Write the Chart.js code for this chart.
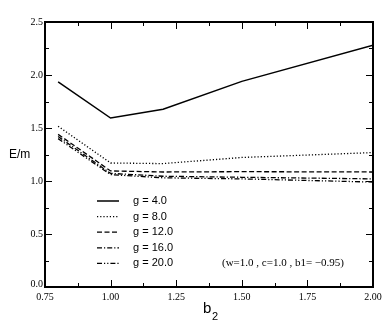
<!DOCTYPE html>
<html><head><meta charset="utf-8">
<script src="https://cdn.jsdelivr.net/npm/chart.js@4/dist/chart.umd.min.js"></script>
<style>html,body{margin:0;padding:0;background:#fff}#wrap{width:382px;height:327px}</style>
</head><body><div id="wrap"><canvas id="c" width="382" height="327"></canvas></div>
<script>
const b2Values = [0.8, 1.0, 1.2, 1.5, 2.0];
const g4  = [1.935, 1.594, 1.677, 1.940, 2.280];
const g8  = [1.516, 1.170, 1.164, 1.222, 1.268];
const g12 = [1.440, 1.095, 1.085, 1.088, 1.085];
const g16 = [1.420, 1.072, 1.045, 1.035, 1.020];
const g20 = [1.400, 1.060, 1.030, 1.020, 0.990];
const seriesLabels = ['g = 4.0', 'g = 8.0', 'g = 12.0', 'g = 16.0', 'g = 20.0'];
const xTickLabels = ['0.75', '1.00', '1.25', '1.50', '1.75', '2.00'];
const yTickLabels = ['0.0', '0.5', '1.0', '1.5', '2.0', '2.5'];
const annotationText = '(w=1.0 , c=1.0 , b1= \u22120.95)';

const dashes = [[], [1.2, 2], [5, 2.5], [5, 2, 1.2, 2], [5, 2, 1.2, 2, 1.2, 2]];
const seriesData = [g4, g8, g12, g16, g20];

const datasets = seriesData.map((arr, i) => ({
  label: seriesLabels[i],
  data: arr.map((v, j) => ({x: b2Values[j], y: v})),
  borderColor: '#000',
  borderWidth: i === 0 ? 1.5 : 1.3,
  borderDash: dashes[i],
  pointRadius: 0,
  fill: false,
  tension: 0
}));

const decor = {
  id: 'decor',
  afterDraw(chart) {
    const ctx = chart.ctx;
    const xs = chart.scales.x, ys = chart.scales.y;
    const a = chart.chartArea;
    ctx.save();
    ctx.strokeStyle = '#000';
    ctx.fillStyle = '#000';
    ctx.lineWidth = 2;
    ctx.setLineDash([]);
    ctx.strokeRect(a.left, a.top, a.right - a.left, a.bottom - a.top);
    ctx.lineWidth = 1;
    const xMaj = xTickLabels.map(Number);
    for (let v = 0.75; v <= 2.0001; v += 0.125) {
      const px = Math.round(xs.getPixelForValue(v)) + 0.5;
      const major = xMaj.some(m => Math.abs(m - v) < 1e-6);
      const len = major ? 7 : 4;
      ctx.beginPath();
      ctx.moveTo(px, a.bottom); ctx.lineTo(px, a.bottom - len);
      ctx.moveTo(px, a.top); ctx.lineTo(px, a.top + len);
      ctx.stroke();
    }
    const yMaj = yTickLabels.map(Number);
    for (let v = 0; v <= 2.5001; v += 0.25) {
      const py = Math.round(ys.getPixelForValue(v)) + 0.5;
      const major = yMaj.some(m => Math.abs(m - v) < 1e-6);
      const len = major ? 7 : 4;
      ctx.beginPath();
      ctx.moveTo(a.left, py); ctx.lineTo(a.left + len, py);
      ctx.moveTo(a.right, py); ctx.lineTo(a.right - len, py);
      ctx.stroke();
    }
    ctx.font = '10px "Liberation Serif", serif';
    ctx.textAlign = 'center'; ctx.textBaseline = 'top';
    xTickLabels.forEach(t => {
      ctx.fillText(t, xs.getPixelForValue(Number(t)), a.bottom + 5);
    });
    ctx.textAlign = 'right'; ctx.textBaseline = 'middle';
    yTickLabels.forEach(t => {
      const py = ys.getPixelForValue(Number(t));
      ctx.fillText(t, a.left - 2, t === '0.0' ? py - 3 : py);
    });
    ctx.font = '12px "Liberation Sans Narrow", "Liberation Sans", sans-serif';
    ctx.textAlign = 'left'; ctx.textBaseline = 'middle';
    ctx.fillText('E/m', 9, 155);
    ctx.font = '15px "Liberation Sans", sans-serif';
    ctx.textBaseline = 'alphabetic';
    ctx.fillText('b', 203, 313);
    ctx.font = '11px "Liberation Sans", sans-serif';
    ctx.fillText('2', 212, 320);
    chart.data.datasets.forEach((ds, i) => {
      const y = 201 + i * 15.6;
      ctx.lineWidth = ds.borderWidth;
      ctx.setLineDash(ds.borderDash);
      ctx.beginPath();
      ctx.moveTo(97, y); ctx.lineTo(119, y);
      ctx.stroke();
      ctx.setLineDash([]);
      ctx.font = '11px "Liberation Sans Narrow", "Liberation Sans", sans-serif';
      ctx.textAlign = 'left'; ctx.textBaseline = 'middle';
      ctx.fillText(ds.label, 133, y);
    });
    ctx.font = '11px "Liberation Serif", serif';
    ctx.textAlign = 'left'; ctx.textBaseline = 'middle';
    ctx.fillText(annotationText, 222, 263);
    ctx.restore();
  }
};

new Chart(document.getElementById('c'), {
  type: 'line',
  data: { datasets },
  options: {
    responsive: false,
    animation: false,
    layout: { padding: { left: 45, right: 9, top: 22, bottom: 40 } },
    plugins: { legend: { display: false }, tooltip: { enabled: false } },
    scales: {
      x: { type: 'linear', min: 0.75, max: 2.0, display: false },
      y: { type: 'linear', min: 0, max: 2.5, display: false }
    }
  },
  plugins: [decor]
});
</script>
</body></html>
